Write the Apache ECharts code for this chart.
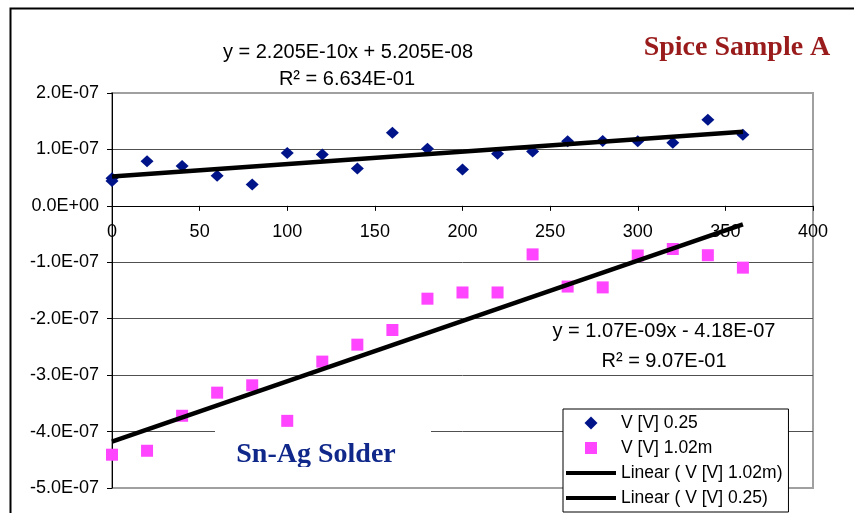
<!DOCTYPE html>
<html>
<head>
<meta charset="utf-8">
<script src="https://cdn.jsdelivr.net/npm/echarts@6/dist/echarts.min.js"></script>
<style>
  html, body { margin: 0; padding: 0; background: #fff; }
  #chart { width: 854px; height: 513px; }
</style>
</head>
<body>
<div id="chart"></div>
<script>
const xTicks = { min: 0, max: 400, step: 50 }
const yTicks = { min: -5e-7, max: 2e-7, step: 1e-7 }

// V [V] 0.25 (two readings at t=0)
const blueX = [0, 0, 20, 40, 60, 80, 100, 120, 140, 160, 180, 200, 220, 240, 260, 280, 300, 320, 340, 360]
const blueY = [4.9e-8, 4.4e-8, 7.9e-8, 7.05e-8, 5.35e-8, 3.8e-8, 9.35e-8, 9.1e-8, 6.6e-8, 1.295e-7, 1.01e-7,
  6.45e-8, 9.25e-8, 9.65e-8, 1.145e-7, 1.15e-7, 1.145e-7, 1.12e-7, 1.525e-7, 1.26e-7]

// V [V] 1.02m
const pinkX = [0, 20, 40, 60, 80, 100, 120, 140, 160, 180, 200, 220, 240, 260, 280, 300, 320, 340, 360]
const pinkY = [-4.41e-7, -4.34e-7, -3.72e-7, -3.31e-7, -3.18e-7, -3.81e-7, -2.76e-7, -2.46e-7, -2.2e-7,
  -1.645e-7, -1.535e-7, -1.535e-7, -8.6e-8, -1.43e-7, -1.445e-7, -8.8e-8, -7.65e-8, -8.75e-8, -1.095e-7]

// trendline end points
const blueFitX = [0, 360]
const blueFitY = [5.205e-8, 1.3143e-7]
const pinkFitX = [0, 360]
const pinkFitY = [-4.18e-7, -3.28e-8]

const names = ['V [V] 0.25', 'V [V] 1.02m', 'Linear ( V [V] 1.02m)', 'Linear ( V [V] 0.25)']
const eqBlue = ['y = 2.205E-10x + 5.205E-08', 'R² = 6.634E-01']
const eqPink = ['y = 1.07E-09x - 4.18E-07', 'R² = 9.07E-01']
const titleText = 'Spice Sample A'
const noteText = 'Sn-Ag Solder'

const sans = '"Liberation Sans", Arial, sans-serif'
const serif = '"Liberation Serif", "Times New Roman", serif'

const pairs = (xs, ys) => xs.map((x, i) => [x, ys[i]])

function sci(v) {
  const s = Number(v).toExponential(1)
  const [m, e] = s.split('e')
  const n = parseInt(e, 10)
  const sign = n < 0 ? '-' : '+'
  return m + 'E' + sign + String(Math.abs(n)).padStart(2, '0')
}

const gridTop = 93
const gridBottom = 25
const plotH = 513 - gridTop - gridBottom
// x axis sits on y = 0, moved up from the bottom edge
const xAxisOffset = -plotH * (0 - yTicks.min) / (yTicks.max - yTicks.min)

// legend icons drawn in a 50x13 box so markers keep their shape
const diamondIcon = 'path://M0,0 M50,13 M18.5,6.5 L25,0 L31.5,6.5 L25,13 Z'
const squareIcon = 'path://M0,0 M50,13 M19,0.5 L31,0.5 L31,12.5 L19,12.5 Z'
const lineIcon = 'path://M0,0 M50,13 M0,4.5 L50,4.5 L50,8.5 L0,8.5 Z'

const chart = echarts.init(document.getElementById('chart'))

chart.setOption({
  animation: false,
  backgroundColor: '#fff',
  grid: {
    left: 112, right: 41, top: gridTop, bottom: gridBottom,
    show: true,
    borderColor: '#a0a0a0',
    borderWidth: 2,
    backgroundColor: '#fff',
    outerBoundsMode: 'none'
  },
  legend: {
    data: [
      { name: names[0], icon: diamondIcon },
      { name: names[1], icon: squareIcon },
      { name: names[2], icon: lineIcon },
      { name: names[3], icon: lineIcon }
    ],
    orient: 'vertical',
    left: 563,
    top: 409,
    padding: [5, 6, 5, 3],
    itemWidth: 50,
    itemHeight: 13,
    itemGap: 7,
    selectedMode: false,
    backgroundColor: '#fff',
    borderColor: '#000',
    borderWidth: 1,
    borderRadius: 0,
    textStyle: { fontFamily: sans, fontSize: 17.5, color: '#000', lineHeight: 18 },
    z: 20
  },
  xAxis: {
    type: 'value',
    position: 'bottom',
    offset: xAxisOffset,
    min: xTicks.min,
    max: xTicks.max,
    interval: xTicks.step,
    axisLine: { show: true, onZero: false, lineStyle: { color: '#000', width: 1 } },
    axisTick: { show: true, inside: false, length: 5, lineStyle: { color: '#000' } },
    axisLabel: { margin: 17, fontFamily: sans, fontSize: 18, color: '#000', showMinLabel: true, showMaxLabel: true },
    splitLine: { show: false }
  },
  yAxis: {
    type: 'value',
    min: yTicks.min,
    max: yTicks.max,
    interval: yTicks.step,
    axisLine: { show: true, onZero: false, lineStyle: { color: '#000', width: 1 } },
    axisTick: { show: true, inside: false, length: 5, lineStyle: { color: '#000' } },
    axisLabel: { margin: 13, fontFamily: sans, fontSize: 18, color: '#000', formatter: sci },
    splitLine: { show: true, showMinLine: false, showMaxLine: false, lineStyle: { color: '#505050', width: 1 } }
  },
  series: [
    {
      name: names[0],
      type: 'scatter',
      symbol: 'diamond',
      symbolSize: [13, 12],
      itemStyle: { color: '#001489', opacity: 1 },
      data: pairs(blueX, blueY),
      z: 3
    },
    {
      name: names[1],
      type: 'scatter',
      symbol: 'rect',
      symbolSize: 12,
      itemStyle: { color: '#ff45ff', opacity: 1 },
      data: pairs(pinkX, pinkY),
      z: 3
    },
    {
      name: names[2],
      type: 'line',
      symbol: 'none',
      lineStyle: { color: '#000', width: 4.5 },
      itemStyle: { color: '#000' },
      data: pairs(pinkFitX, pinkFitY),
      z: 4
    },
    {
      name: names[3],
      type: 'line',
      symbol: 'none',
      lineStyle: { color: '#000', width: 4.5 },
      itemStyle: { color: '#000' },
      data: pairs(blueFitX, blueFitY),
      z: 4
    }
  ],
  graphic: [
    {
      type: 'rect', left: 8, top: 6, z: 100, silent: true,
      shape: { width: 900, height: 600 },
      style: { fill: 'none', stroke: '#000', lineWidth: 2 }
    },
    {
      type: 'text', x: 348, y: 52, z: 10,
      style: { text: eqBlue[0], font: '20px ' + sans, fill: '#000', textAlign: 'center', textVerticalAlign: 'middle' }
    },
    {
      type: 'text', x: 347, y: 79, z: 10,
      style: { text: eqBlue[1], font: '20px ' + sans, fill: '#000', textAlign: 'center', textVerticalAlign: 'middle' }
    },
    {
      type: 'text', x: 664, y: 331, z: 10,
      style: { text: eqPink[0], font: '20px ' + sans, fill: '#000', textAlign: 'center', textVerticalAlign: 'middle' }
    },
    {
      type: 'text', x: 664, y: 361, z: 10,
      style: { text: eqPink[1], font: '20px ' + sans, fill: '#000', textAlign: 'center', textVerticalAlign: 'middle' }
    },
    {
      type: 'text', x: 737, y: 48, z: 10,
      style: { text: titleText, font: 'bold 28px ' + serif, fill: '#991b1b', textAlign: 'center', textVerticalAlign: 'middle' }
    },
    {
      type: 'rect', left: 215, top: 429, z: 10, silent: true,
      shape: { width: 216, height: 38 },
      style: { fill: '#fff' }
    },
    {
      type: 'text', x: 316, y: 455, z: 11,
      style: { text: noteText, font: 'bold 28px ' + serif, fill: '#10288a', textAlign: 'center', textVerticalAlign: 'middle' }
    },
    {
      // the text box clips the descender in the original
      type: 'rect', left: 225, top: 467, z: 12, silent: true,
      shape: { width: 190, height: 18 },
      style: { fill: '#fff' }
    }
  ]
})
</script>
</body>
</html>
